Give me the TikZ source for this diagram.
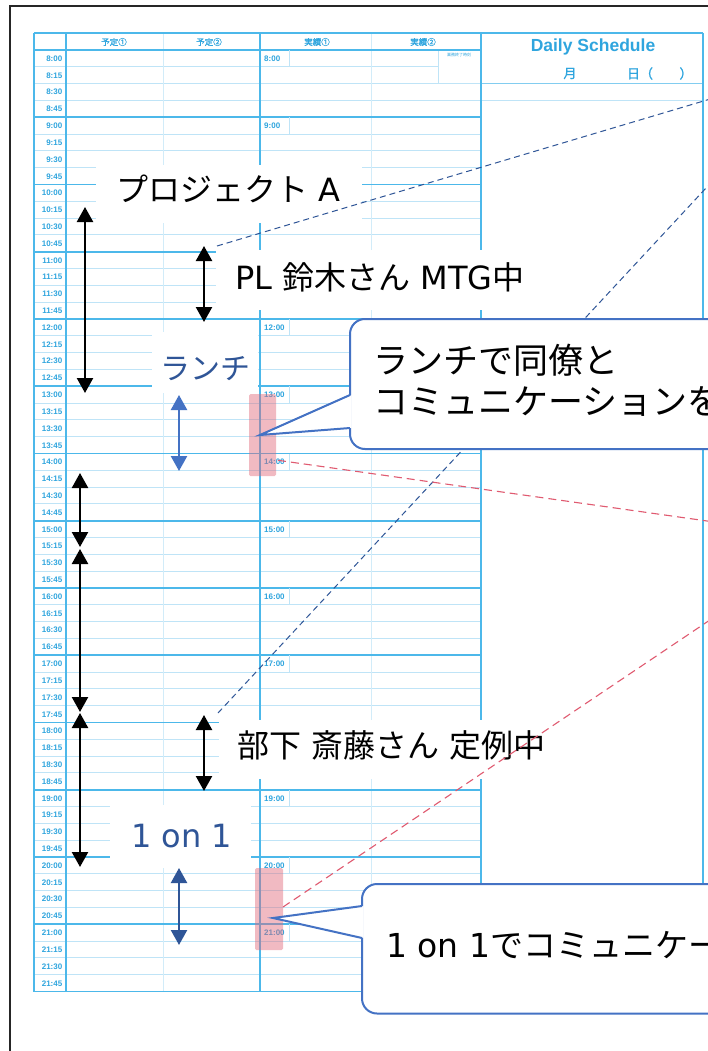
\documentclass[tikz,border=0pt]{standalone}
\usepackage{fontspec}
\usetikzlibrary{arrows.meta}
\newfontfamily\jp{Noto Sans CJK JP}
\newfontfamily\jpb{Noto Sans CJK JP}[FakeBold=1.5]
\newfontfamily\lat{DejaVu Sans}
\newfontfamily\lib{Liberation Sans}
\definecolor{tblue}{HTML}{4CB8EA}
\definecolor{tlight}{HTML}{BFE4F7}
\definecolor{tdash}{HTML}{D2ECF9}
\definecolor{ttext}{HTML}{2FA5DE}
\definecolor{navy}{HTML}{2F5597}
\definecolor{mblue}{HTML}{4472C4}
\definecolor{rdash}{HTML}{E05A70}
\definecolor{pinkc}{HTML}{E06878}
\begin{document}
\begin{tikzpicture}[x=1pt,y=-1pt,
  hourline/.style={draw=tblue, line width=1.7pt},
  qline/.style={draw=tlight, line width=1pt},
  thinv/.style={draw=tdash, line width=0.9pt},
  whitebox/.style={fill=white, draw=none},
  lbl/.style={anchor=west, inner sep=0pt, font=\fontsize{32}{34}\selectfont},
  dblblack/.style={{Triangle[length=15pt,width=16pt]}-{Triangle[length=15pt,width=16pt]}, line width=2.3pt, draw=black},
  bluedash/.style={draw=navy, dash pattern=on 6pt off 4pt, line width=1pt},
  reddash/.style={draw=rdash, dash pattern=on 8pt off 5pt, line width=1.1pt},
  pinkbox/.style={fill=pinkc, fill opacity=0.45, rounded corners=1.5pt},
  callout/.style={draw=mblue, fill=white, line width=2pt},
  timelbl/.style={anchor=east, inner sep=0pt, text=ttext, font=\lib\bfseries\fontsize{8}{8}\selectfont},
  celllbl/.style={anchor=west, inner sep=0pt, text=ttext, font=\lib\bfseries\fontsize{8}{8}\selectfont},
  headlbl/.style={inner sep=0pt, text=ttext, font=\jpb\fontsize{8.5}{8.5}\selectfont}]
\useasboundingbox (0,0) rectangle (708,1051);
\clip (0,0) rectangle (708,1051);
\fill[white] (0,0) rectangle (708,1051);
% outer frame
\draw[line width=1.3pt, draw=black!85] (10,1060) -- (10,6) -- (720,6);
% ---- table ----
% quarter lines
\foreach \i in {1,...,55} {
  \pgfmathtruncatemacro\m{mod(\i,4)}
  \ifnum\m=0\relax\else
    \ifnum\i=1
      \draw[qline] (34,50+\i*16.8125) -- (438,50+\i*16.8125);
    \else
      \draw[qline] (34,50+\i*16.8125) -- (481,50+\i*16.8125);
    \fi
  \fi
}
% light verticals
\draw[thinv] (163,33) -- (163,991.5);
\draw[thinv] (371,33) -- (371,991.5);
% right block lines
\draw[draw=tblue!70, line width=1.2pt] (481,83.6) -- (703,83.6);
\draw[qline] (481,101) -- (703,101);
% small cell in 実績②
\draw[qline] (438,50) -- (438,83.6);
\node[inner sep=0pt, text=ttext, font=\jp\fontsize{4}{4}\selectfont] (endcell) at (459,55) {業務終了時刻};
% hour lines
\foreach \k in {0,...,14} {
  \draw[hourline] (34,50+\k*67.25) -- (481,50+\k*67.25);
}
% 実績① hour cells (10:00, 11:00, 18:00 lie under label boxes)
\foreach \k in {0,1,4,5,6,7,8,9,11,12,13} {
  \pgfmathtruncatemacro\hh{8+\k}
  \draw[qline] (289,50+\k*67.25) -- (289,50+\k*67.25+16.8125);
  \node[celllbl] (c\k) at (264,50+\k*67.25+8.6) {\hh:00};
}
% borders
\draw[hourline] (34,33) -- (703,33);
\draw[hourline] (34,33) -- (34,991.5);
\draw[hourline] (66,33) -- (66,991.5);
\draw[hourline] (260,33) -- (260,991.5);
\draw[hourline] (481,33) -- (481,991.5);
\draw[hourline] (703,33) -- (703,991.5);
\draw[hourline] (481,991.5) -- (703,991.5);
% time labels
\foreach \i in {0,...,55} {
  \pgfmathtruncatemacro\hh{8+floor(\i/4)}
  \pgfmathtruncatemacro\mm{mod(\i,4)*15}
  \ifnum\mm=0 \def\mmm{00}\else \edef\mmm{\mm}\fi
  \node[timelbl] (t\i) at (62.5,50+\i*16.8125+8.6) {\hh:\mmm};
}
% header labels
\node[headlbl] (h1) at (114,42) {予定①};
\node[headlbl] (h2) at (209,42) {予定②};
\node[headlbl] (h3) at (317,42) {実績①};
\node[headlbl] (h4) at (423,42) {実績②};
\node[inner sep=0pt, text=ttext, font=\lib\bfseries\fontsize{17.5}{18}\selectfont] (ds) at (593,47) {Daily Schedule};
\node[inner sep=0pt, text=ttext, font=\jpb\fontsize{13}{13}\selectfont] (mon) at (570,73.5) {月};
\node[inner sep=0pt, text=ttext, font=\jpb\fontsize{13}{13}\selectfont] (day) at (640,73.5) {日（};
\node[inner sep=0pt, text=ttext, font=\jpb\fontsize{13}{13}\selectfont] (dayc) at (686,73.5) {）};
% ---- white label boxes ----
\fill[whitebox] (96,165) rectangle (362,223);
\fill[whitebox] (216,250) rectangle (535,310);
\fill[whitebox] (152,332) rectangle (258,393);
\fill[whitebox] (219,720) rectangle (565,779);
\fill[whitebox] (110,805) rectangle (251,868);
% labels
\node[lbl] (lA) at (116,189) {\jp プロジェクト\lat\ A};
\node[lbl] (lPL) at (235,277) {\lat PL\ \jp 鈴木さん\lat\ MTG\jp 中};
\node[lbl, text=navy, font=\fontsize{30}{32}\selectfont] (lL) at (160,369) {\jp ランチ};
\node[lbl] (lB) at (237,745) {\jp 部下\lat\ \jp 斎藤さん\lat\ \jp 定例中};
\node[lbl, text=navy] (l1) at (131,836) {\lat 1 on 1};
% ---- arrows ----
\coordinate (aA1) at (85,207);  \coordinate (aA2) at (85,393);
\coordinate (aP1) at (204,246); \coordinate (aP2) at (204,322);
\coordinate (aL1) at (179,395); \coordinate (aL2) at (179,471);
\coordinate (a41) at (80,473);  \coordinate (a42) at (80,547);
\coordinate (a51) at (80,549);  \coordinate (a52) at (80,712);
\coordinate (a61) at (80,713);  \coordinate (a62) at (80,867);
\coordinate (aB1) at (204,715); \coordinate (aB2) at (204,791);
\coordinate (aO1) at (179,868); \coordinate (aO2) at (179,945);
\draw[dblblack] (aA1) -- (aA2);
\draw[dblblack] (aP1) -- (aP2);
\draw[dblblack, draw=mblue] (aL1) -- (aL2);
\draw[dblblack] (a41) -- (a42);
\draw[dblblack] (a51) -- (a52);
\draw[dblblack] (a61) -- (a62);
\draw[dblblack] (aB1) -- (aB2);
\draw[dblblack, draw=navy] (aO1) -- (aO2);
% ---- dashed lines ----
\coordinate (dA1) at (217,246); \coordinate (dA2) at (712,98.5);
\coordinate (dB1) at (218,713); \coordinate (dB2) at (712,181.6);
\coordinate (rC1) at (278,460.3); \coordinate (rC2) at (712,521.7);
\coordinate (rD1) at (283,907); \coordinate (rD2) at (712,618.6);
\draw[bluedash] (dA1) -- (dA2);
\draw[bluedash] (dB1) -- (dB2);
\draw[reddash] (rC1) -- (rC2);
\draw[reddash] (rD1) -- (rD2);
% ---- pink highlights ----
\fill[pinkbox] (249,394) rectangle (276,476);
\fill[pinkbox] (255,868) rectangle (283,950);
% ---- callouts ----
\coordinate (tip1) at (260,435);
\coordinate (b1u) at (350,395); \coordinate (b1d) at (350,428);
\draw[callout, rounded corners=15pt] (350,319) rectangle (760,449);
\fill[white] (tip1) -- (351.5,427.9) -- (351.5,395.1) -- cycle;
\draw[draw=mblue, line width=2pt, line join=miter] (b1u) -- (tip1) -- (b1d);
\node[anchor=west, inner sep=0pt, align=left, font=\jp\fontsize{35}{41}\selectfont] (co1) at (373,380) {ランチで同僚と\\コミュニケーションを};
\coordinate (tip2) at (273,918);
\coordinate (b2u) at (362,906); \coordinate (b2d) at (362,938);
\draw[callout, rounded corners=15pt] (362,884) rectangle (760,1013.5);
\fill[white] (tip2) -- (363.5,937.9) -- (363.5,906.1) -- cycle;
\draw[draw=mblue, line width=2pt, line join=miter] (b2u) -- (tip2) -- (b2d);
\node[anchor=west, inner sep=0pt, font=\jp\fontsize{33}{40}\selectfont] (co2) at (386,945) {\lat 1 on 1\jp でコミュニケーションを};
\end{tikzpicture}
\end{document}
